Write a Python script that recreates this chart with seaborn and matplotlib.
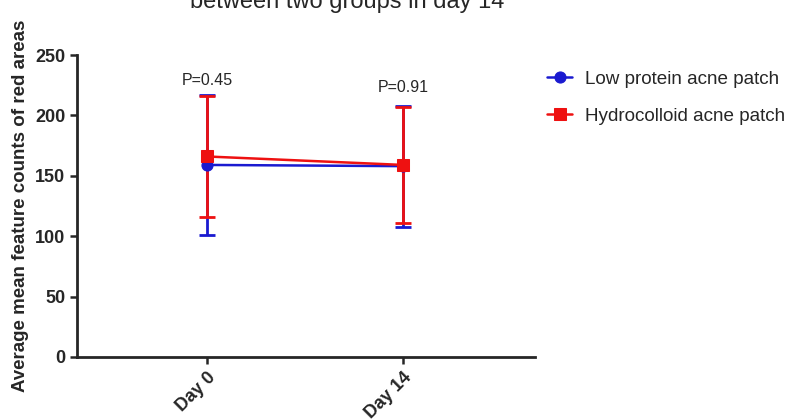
import numpy as np
import pandas as pd
import matplotlib.pyplot as plt
import seaborn as sns

days = ["Day 0", "Day 14"]
groups = ["Low protein acne patch", "Hydrocolloid acne patch"]
low_mean = [159, 158]
low_sd = [58, 50]
hydro_mean = [166, 159]
hydro_sd = [50, 48]
p_labels = ["P=0.45", "P=0.91"]
p_heights = [223, 217]

colors = ["#1a1ad0", "#ee1111"]
markers = ["o", "s"]

df = pd.DataFrame({
    "day": days * 2,
    "group": [groups[0]] * 2 + [groups[1]] * 2,
    "mean": low_mean + hydro_mean,
    "sd": low_sd + hydro_sd,
})

sns.set_style("ticks")
plt.rcParams["font.family"] = ["Liberation Sans", "DejaVu Sans"]

fig = plt.figure(figsize=(7.88, 4.19), dpi=100)
ax = fig.add_axes([0.0977, 0.148, 0.679 - 0.0977, 0.8687 - 0.148])

x = np.arange(len(days))
for g, c, m in zip(groups, colors, markers):
    sub = df[df["group"] == g]
    ax.errorbar(x, sub["mean"], yerr=sub["sd"], fmt="none", ecolor=c,
                elinewidth=2, capsize=6, capthick=2, zorder=2)
    sns.lineplot(x=x, y=sub["mean"].values, ax=ax, color=c, marker=m,
                 markersize=9 if m == "s" else 8, markeredgecolor=c,
                 linewidth=1.8, label=g, zorder=3)

for xi, lab, h in zip(x, p_labels, p_heights):
    ax.text(xi, h, lab, ha="center", va="bottom", fontsize=11.5)

ax.set_xlim(-0.663, 1.673)
ax.set_ylim(0, 250)
ax.set_yticks([0, 50, 100, 150, 200, 250])
ax.set_xticks(x)
ax.set_xticklabels(days, rotation=45, ha="right", rotation_mode="anchor")
ax.tick_params(axis="both", labelsize=13, width=1.8, length=5)
for lab in ax.get_xticklabels() + ax.get_yticklabels():
    lab.set_fontweight("bold")
for s in ["left", "bottom"]:
    ax.spines[s].set_linewidth(2)
sns.despine(ax=ax)

ax.set_ylabel("Average mean feature counts of red areas", fontsize=13.5,
              fontweight="bold")
ax.yaxis.set_label_coords(-0.105, 0.5)

ax.legend(loc="upper left", bbox_to_anchor=(0.99, 1.005), frameon=False,
          fontsize=13.6, handlelength=1.3, labelspacing=1.05,
          handletextpad=0.68)

fig.text(0.44, 0.981, "between two groups in day 14", ha="center",
         va="baseline", fontsize=17)

fig.savefig("out.png", dpi=100)
